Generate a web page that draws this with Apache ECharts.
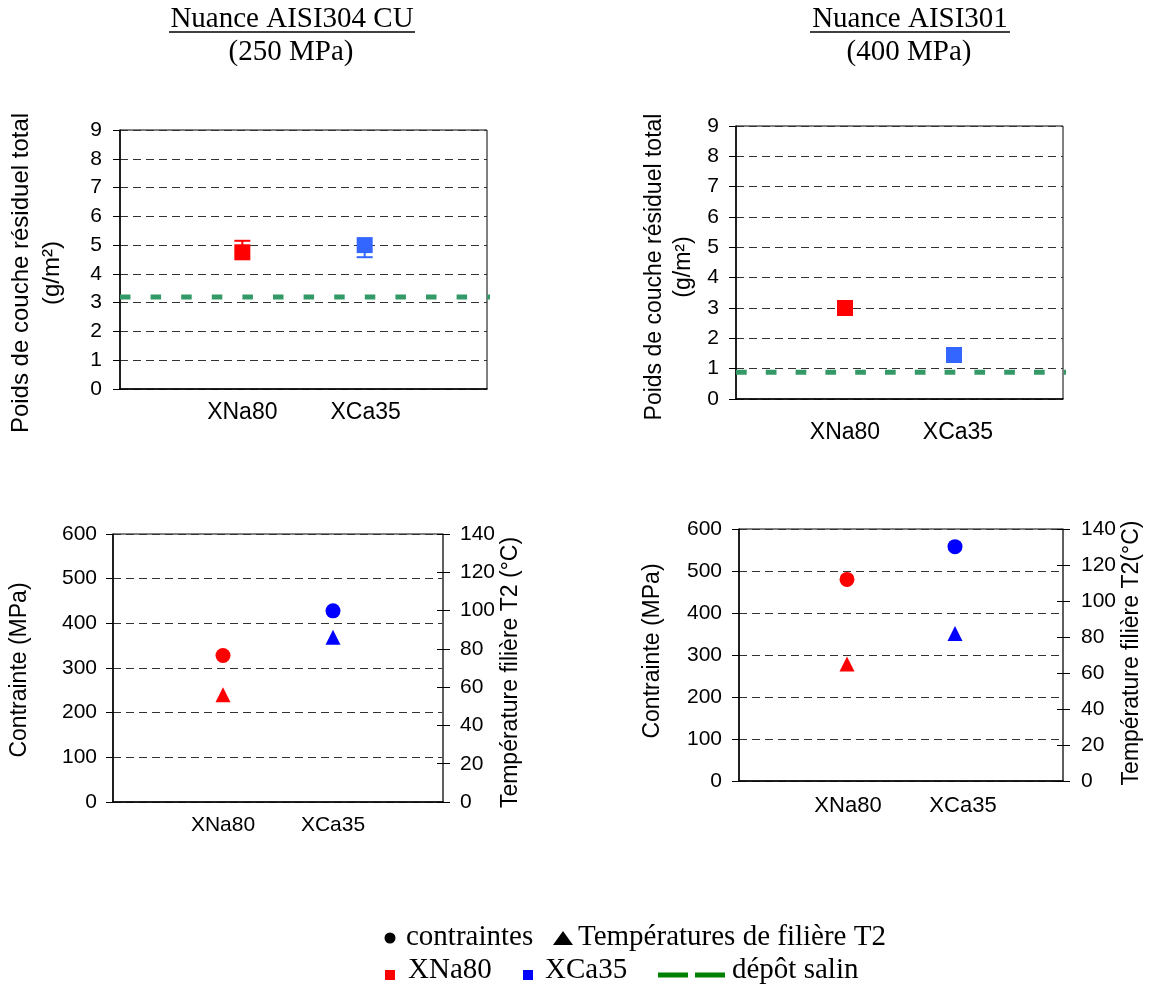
<!DOCTYPE html>
<html><head><meta charset="utf-8">
<script src="https://cdn.jsdelivr.net/npm/echarts@6/dist/echarts.min.js"></script>
<style>html,body{margin:0;padding:0;background:#fff}#c{width:1163px;height:987px}</style>
</head><body><div id="c"></div>
<script>
// ---------- data ----------
const categories = ['XNa80', 'XCa35'];
const topColors = ['#FF0000', '#3366FF'];
const bottomColors = ['#FF0000', '#0000FF'];
const saltColor = '#339966';

const poids304 = [4.75, 5.0];
const poids304ErrPlus = [0.4, 0];
const poids304ErrMinus = [0, 0.42];
const depotSalin304 = 3.2;

const poids301 = [3.0, 1.45];
const depotSalin301 = 0.88;

const depotSalinSpan = [0, 3.08];

const contrainte304 = [328, 428];
const temperature304 = [56, 86];
const contrainte301 = [480, 558];
const temperature301 = [65, 82];

const poidsTicks = { min: 0, max: 9, interval: 1 };
const contrainteTicks = { min: 0, max: 600, interval: 100 };
const temperatureTicks = { min: 0, max: 140, interval: 20 };
const categoryAxis = { min: 0, max: categories.length + 1, interval: 1 };

// ---------- styles ----------
const SANS = '"Liberation Sans", Arial, sans-serif';
const SERIF = '"Liberation Serif", "Times New Roman", serif';

function pts(values, colors) {
  return values.map((v, i) => ({ value: [i + 1, v], itemStyle: { color: colors[i], opacity: 1 } }));
}

function xAxis(gridIndex, fontSize, margin, shifts) {
  const rich = {};
  categories.forEach((c, i) => {
    rich['c' + i] = { fontSize: fontSize, fontFamily: SANS, color: '#000',
      padding: [0, shifts[i] < 0 ? -2 * shifts[i] : 0, 0, shifts[i] > 0 ? 2 * shifts[i] : 0] };
  });
  return {
    type: 'value', gridIndex: gridIndex,
    min: categoryAxis.min, max: categoryAxis.max, interval: categoryAxis.interval,
    axisLine: { show: true, onZero: false, lineStyle: { color: '#000', width: 1.5 } },
    axisTick: { show: false },
    splitLine: { show: false },
    axisLabel: {
      margin: margin, showMinLabel: true, showMaxLabel: true,
      formatter: function (v) {
        const i = Math.round(v) - 1;
        return (i >= 0 && i < categories.length) ? '{c' + i + '|' + categories[i] + '}' : '';
      },
      rich: rich
    }
  };
}

const gridDash = { color: '#333', type: [8, 5], width: 1.2 };

function yLeft(gridIndex, ticks, labelMargin, name, nameStyle, nameGap, split) {
  return {
    type: 'value', gridIndex: gridIndex, position: 'left',
    min: ticks.min, max: ticks.max, interval: ticks.interval,
    axisLine: { show: true, lineStyle: { color: '#000', width: 1.5 } },
    axisTick: { show: true, length: 7, lineStyle: { color: '#000', width: 1 } },
    axisLabel: { margin: labelMargin, fontSize: 21, fontFamily: SANS, color: '#000' },
    splitLine: { show: split, lineStyle: gridDash },
    name: name, nameLocation: 'middle', nameRotate: 90, nameGap: nameGap,
    nameTextStyle: Object.assign({ fontFamily: SANS, color: '#000' }, nameStyle)
  };
}

function yRight(gridIndex, ticks, labelMargin, name, nameStyle, nameGap) {
  return {
    type: 'value', gridIndex: gridIndex, position: 'right',
    min: ticks.min, max: ticks.max, interval: ticks.interval,
    axisLine: { show: true, lineStyle: { color: '#555', width: 1.5 } },
    axisTick: { show: true, length: 7, lineStyle: { color: '#000', width: 1 } },
    axisLabel: { margin: labelMargin, fontSize: 21, fontFamily: SANS, color: '#000' },
    splitLine: { show: false },
    name: name, nameLocation: 'middle', nameRotate: 90, nameGap: nameGap,
    nameTextStyle: Object.assign({ fontFamily: SANS, color: '#000' }, nameStyle)
  };
}

function yRightInner(gridIndex, ticks) {
  return {
    type: 'value', gridIndex: gridIndex, position: 'right',
    min: ticks.min, max: ticks.max, interval: ticks.interval,
    axisLine: { show: false },
    axisTick: { show: true, inside: true, length: 6, lineStyle: { color: '#000', width: 1 } },
    axisLabel: { show: false }, splitLine: { show: false }
  };
}

const chart = echarts.init(document.getElementById('c'), null, { renderer: 'canvas' });

const errData = categories.map((c, i) => ({
  value: [i + 1, poids304[i], poids304ErrPlus[i], poids304ErrMinus[i]],
  itemStyle: { color: topColors[i] }
}));

const option = {
  animation: false,
  backgroundColor: '#fff',
  grid: [
    { left: 120, top: 130, width: 367, height: 259, show: true, borderColor: '#000', borderWidth: 1, outerBoundsMode: 'none' },
    { left: 736, top: 126, width: 327, height: 273, show: true, borderColor: '#000', borderWidth: 1, outerBoundsMode: 'none' },
    { left: 113, top: 534, width: 330, height: 268, show: true, borderColor: '#000', borderWidth: 1, outerBoundsMode: 'none' },
    { left: 739, top: 529, width: 324, height: 252, show: true, borderColor: '#000', borderWidth: 1, outerBoundsMode: 'none' }
  ],
  xAxis: [
    xAxis(0, 23, 12, [0, 1]),
    xAxis(1, 23, 22, [0, 4]),
    xAxis(2, 21, 13, [0, 0]),
    xAxis(3, 22, 14, [1, 8])
  ],
  yAxis: [
    yLeft(0, poidsTicks, 18, 'Poids de couche résiduel total\n(g/m²)', { fontSize: 24, lineHeight: 31, padding: [0, 27, 0, 0] }, 52, true),
    yLeft(1, poidsTicks, 17, 'Poids de couche résiduel total\n(g/m²)', { fontSize: 23, lineHeight: 29, padding: [0, 9, 0, 0] }, 38, true),
    yLeft(2, contrainteTicks, 16, 'Contrainte (MPa)', { fontSize: 23, lineHeight: 23, padding: [0, 4, 0, 0] }, 82, true),
    yRight(2, temperatureTicks, 17, 'Température filière T2 (°C)', { fontSize: 23, lineHeight: 23, padding: [0, 9, 0, 0] }, 54),
    yRightInner(2, temperatureTicks),
    yLeft(3, contrainteTicks, 17, 'Contrainte (MPa)', { fontSize: 23, lineHeight: 23, padding: [0, 0, 0, 8] }, 75, true),
    yRight(3, temperatureTicks, 18, 'Température filière T2(°C)', { fontSize: 23, lineHeight: 23, padding: [0, 0, 0, 4] }, 55),
    yRightInner(3, temperatureTicks)
  ],
  series: [
    {
      type: 'custom', xAxisIndex: 0, yAxisIndex: 0, z: 2, data: errData,
      renderItem: function (params, api) {
        const x = api.value(0), y = api.value(1), up = api.value(2), dn = api.value(3);
        const color = api.visual('color');
        const top = api.coord([x, y + up]);
        const bot = api.coord([x, y - dn]);
        const half = 8;
        const children = [{ type: 'line', shape: { x1: top[0], y1: top[1], x2: bot[0], y2: bot[1] }, style: { stroke: color, lineWidth: 2 } }];
        if (up > 0) children.push({ type: 'line', shape: { x1: top[0] - half, y1: top[1], x2: top[0] + half, y2: top[1] }, style: { stroke: color, lineWidth: 2 } });
        if (dn > 0) children.push({ type: 'line', shape: { x1: bot[0] - half, y1: bot[1], x2: bot[0] + half, y2: bot[1] }, style: { stroke: color, lineWidth: 2 } });
        return { type: 'group', children: children };
      }
    },
    { type: 'scatter', xAxisIndex: 0, yAxisIndex: 0, z: 3, symbol: 'rect', symbolSize: 16, itemStyle: { opacity: 1 }, data: pts(poids304, topColors) },
    { type: 'line', xAxisIndex: 0, yAxisIndex: 0, z: 1, clip: false, symbol: 'none',
      lineStyle: { color: saltColor, width: 5, type: [10.5, 20.1], cap: 'butt' },
      data: depotSalinSpan.map(x => [x, depotSalin304]) },
    { type: 'scatter', xAxisIndex: 1, yAxisIndex: 1, z: 3, symbol: 'rect', symbolSize: 16, itemStyle: { opacity: 1 }, data: pts(poids301, topColors) },
    { type: 'line', xAxisIndex: 1, yAxisIndex: 1, z: 1, clip: false, symbol: 'none',
      lineStyle: { color: saltColor, width: 5, type: [10.7, 19.1], cap: 'butt' },
      data: depotSalinSpan.map(x => [x, depotSalin301]) },
    { type: 'scatter', xAxisIndex: 2, yAxisIndex: 2, symbol: 'circle', symbolSize: 15, itemStyle: { opacity: 1 }, data: pts(contrainte304, bottomColors) },
    { type: 'scatter', xAxisIndex: 2, yAxisIndex: 3, symbol: 'triangle', symbolSize: [15, 15], itemStyle: { opacity: 1 }, data: pts(temperature304, bottomColors) },
    { type: 'scatter', xAxisIndex: 3, yAxisIndex: 5, symbol: 'circle', symbolSize: 15, itemStyle: { opacity: 1 }, data: pts(contrainte301, bottomColors) },
    { type: 'scatter', xAxisIndex: 3, yAxisIndex: 6, symbol: 'triangle', symbolSize: [15, 15], itemStyle: { opacity: 1 }, data: pts(temperature301, bottomColors) }
  ],
  graphic: [
    // titles
    { type: 'text', x: 292, y: 19, style: { text: 'Nuance AISI304 CU', font: '29px ' + SERIF, fill: '#000', align: 'center', verticalAlign: 'middle' } },
    { type: 'line', shape: { x1: 169, y1: 32, x2: 415, y2: 32 }, style: { stroke: '#000', lineWidth: 1.5 } },
    { type: 'text', x: 291, y: 52, style: { text: '(250 MPa)', font: '29px ' + SERIF, fill: '#000', align: 'center', verticalAlign: 'middle' } },
    { type: 'text', x: 910, y: 19, style: { text: 'Nuance AISI301', font: '29px ' + SERIF, fill: '#000', align: 'center', verticalAlign: 'middle' } },
    { type: 'line', shape: { x1: 810, y1: 32, x2: 1010, y2: 32 }, style: { stroke: '#000', lineWidth: 1.5 } },
    { type: 'text', x: 909, y: 52, style: { text: '(400 MPa)', font: '29px ' + SERIF, fill: '#000', align: 'center', verticalAlign: 'middle' } },
    // legend line 1
    { type: 'circle', shape: { cx: 390, cy: 938, r: 5.5 }, style: { fill: '#000' } },
    { type: 'text', x: 406, y: 937, style: { text: 'contraintes', font: '29px ' + SERIF, fill: '#000', align: 'left', verticalAlign: 'middle' } },
    { type: 'polygon', shape: { points: [[553, 945], [573, 945], [563, 931]] }, style: { fill: '#000' } },
    { type: 'text', x: 578, y: 937, style: { text: 'Températures de filière T2', font: '29px ' + SERIF, fill: '#000', align: 'left', verticalAlign: 'middle' } },
    // legend line 2
    { type: 'rect', shape: { x: 385, y: 970, width: 10, height: 10 }, style: { fill: '#FF0000' } },
    { type: 'text', x: 408, y: 970, style: { text: 'XNa80', font: '29px ' + SERIF, fill: '#000', align: 'left', verticalAlign: 'middle' } },
    { type: 'rect', shape: { x: 523, y: 970, width: 10, height: 10 }, style: { fill: '#0000FF' } },
    { type: 'text', x: 545, y: 970, style: { text: 'XCa35', font: '29px ' + SERIF, fill: '#000', align: 'left', verticalAlign: 'middle' } },
    { type: 'rect', shape: { x: 658, y: 972.5, width: 30, height: 5 }, style: { fill: '#008000' } },
    { type: 'rect', shape: { x: 695, y: 972.5, width: 30, height: 5 }, style: { fill: '#008000' } },
    { type: 'text', x: 732, y: 970, style: { text: 'dépôt salin', font: '29px ' + SERIF, fill: '#000', align: 'left', verticalAlign: 'middle' } }
  ]
};
chart.setOption(option);
</script>
</body></html>
